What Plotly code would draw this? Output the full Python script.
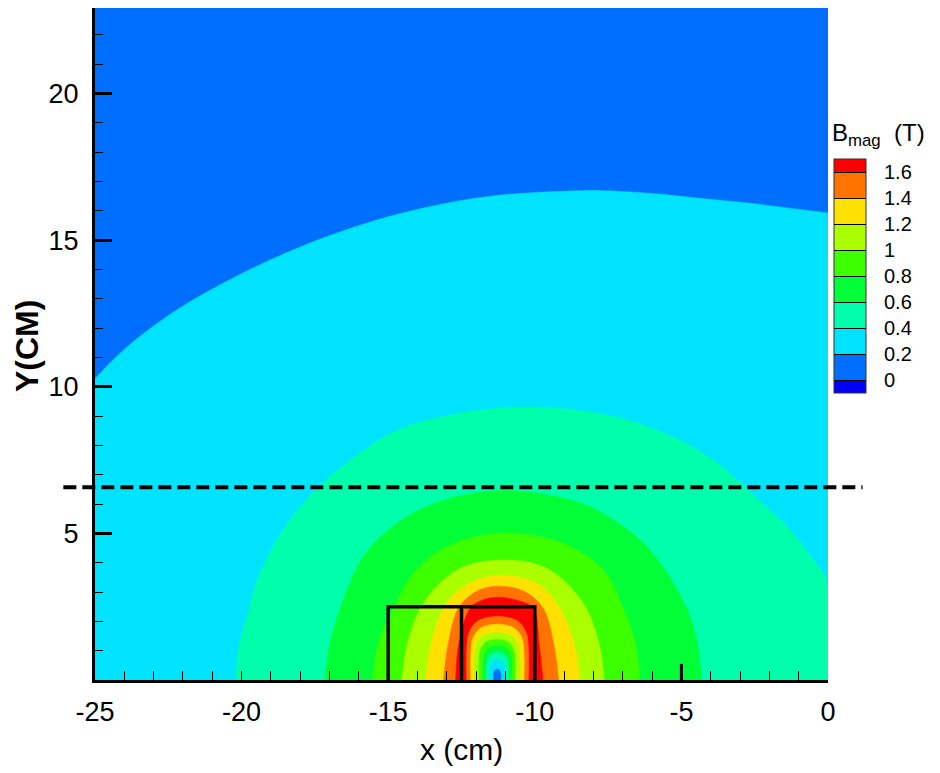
import plotly.graph_objects as go

# ---------------- data ----------------
# contour levels (T), their labels and the Tecplot-style band colours
levels = [0, 0.2, 0.4, 0.6, 0.8, 1.0, 1.2, 1.4, 1.6]
level_text = ["0", "0.2", "0.4", "0.6", "0.8", "1", "1.2", "1.4", "1.6"]
# band_colors[k] = band just below levels[k]; the last one is above 1.6
band_colors = ["#0000FF", "#006EFF", "#00E3FF", "#00FFAA", "#00FF36",
               "#3CFF00", "#AAFF00", "#FFE100", "#FF7300", "#FF0000"]

# outer iso-lines of |B| (x, y in cm)
iso02_x = [-25.6, -24.94, -24.03, -22.9, -21.76, -20.62, -19.49, -18.35, -17.21, -16.07,
           -14.94, -13.80, -12.66, -11.53, -10.39, -9.25, -7.7, -6.07, -4.37, -2.66,
           -0.96, 0.07, 0.6, 0.6, -25.6]
iso02_y = [9.6, 10.34, 11.25, 12.15, 12.90, 13.54, 14.11, 14.62, 15.08, 15.48,
           15.82, 16.10, 16.33, 16.50, 16.60, 16.66, 16.69, 16.6, 16.43, 16.26,
           16.05, 15.92, 15.84, -1, -1]

iso04_x = [-20.2, -20.08, -19.75, -19.5, -18.67, -17.4, -16.2, -14.8, -12.9, -10.4, -8.0,
           -6.6, -5.3, -4.2, -3.2, -2.3, -1.5, -0.8, 0.04, 0.7, 0.7]
iso04_y = [0, 1.2, 2.4, 3.3, 5.0, 6.56, 7.56, 8.47, 9.04, 9.32, 9.12,
           8.80, 8.30, 7.70, 6.92, 6.07, 5.35, 4.5, 3.35, 2.3, -1]

iso06_x = [-17.16, -17.0, -16.64, -15.85, -14.71, -13.6, -12.44, -10.85, -9.03, -7.89, -6.18, -4.82, -4.45, -4.32]
iso06_y = [0, 1.2, 2.44, 4.21, 5.34, 5.95, 6.31, 6.46, 6.20, 5.80, 4.55, 2.44, 1.2, 0]

iso08_x = [-15.54, -15.35, -14.83, -14.14, -13.0, -11.07, -9.03, -7.66, -6.98, -6.55, -6.42]
iso08_y = [0, 1.2, 2.44, 3.64, 4.55, 5.02, 4.66, 3.75, 2.44, 1.2, 0]

iso10_x = [-14.53, -14.35, -13.8, -12.66, -11.19, -9.59, -8.35, -7.8, -7.64]
iso10_y = [0, 1.2, 2.62, 3.75, 4.09, 3.81, 2.62, 1.2, 0]

iso12_x = [-13.72, -13.55, -13.12, -12.44, -11.3, -9.94, -9.14, -8.65, -8.47]
iso12_y = [0, 1.2, 2.44, 3.18, 3.56, 3.30, 2.44, 1.2, 0]

iso14_x = [-13.11, -12.96, -12.61, -12.0, -11.3, -10.4, -9.71, -9.35, -9.19]
iso14_y = [0, 1.2, 2.44, 3.02, 3.2, 3.04, 2.44, 1.2, 0]

iso16_x = [-12.70, -12.6, -12.21, -11.8, -11.3, -10.6, -10.05, -9.85, -9.72]
iso16_y = [0, 1.2, 2.44, 2.72, 2.82, 2.72, 2.44, 1.2, 0]

# inner iso-lines (field falls again inside the magnet)
in16_x = [-12.32, -12.32, -12.24, -11.94, -11.27, -10.60, -10.30, -10.22, -10.22]
in16_y = [0, 1.08, 1.63, 2.02, 2.17, 2.02, 1.63, 1.08, 0]
in14_x = [-12.18, -12.18, -12.11, -11.85, -11.27, -10.70, -10.44, -10.37, -10.37]
in14_y = [0, 0.95, 1.43, 1.77, 1.9, 1.77, 1.43, 0.95, 0]
in12_x = [-12.05, -12.05, -11.99, -11.77, -11.28, -10.80, -10.58, -10.52, -10.52]
in12_y = [0, 0.81, 1.22, 1.51, 1.62, 1.51, 1.22, 0.81, 0]
in10_x = [-11.9, -11.9, -11.85, -11.68, -11.29, -10.9, -10.73, -10.68, -10.68]
in10_y = [0, 0.7, 1.04, 1.29, 1.39, 1.29, 1.04, 0.7, 0]
in08_x = [-11.76, -11.76, -11.72, -11.59, -11.28, -10.97, -10.84, -10.8, -10.8]
in08_y = [0, 0.58, 0.87, 1.08, 1.16, 1.08, 0.87, 0.58, 0]
in06_x = [-11.65, -11.65, -11.62, -11.52, -11.28, -11.04, -10.93, -10.9, -10.9]
in06_y = [0, 0.47, 0.7, 0.87, 0.94, 0.87, 0.7, 0.47, 0]
in04_x = [-11.55, -11.55, -11.53, -11.45, -11.29, -11.12, -11.04, -11.02, -11.02]
in04_y = [0, 0.35, 0.52, 0.65, 0.70, 0.65, 0.52, 0.35, 0]
in02_x = [-11.41, -11.41, -11.39, -11.35, -11.285, -11.22, -11.18, -11.16, -11.16]
in02_y = [0, 0.18, 0.28, 0.34, 0.37, 0.34, 0.28, 0.18, 0]

# magnet / yoke outline, probe marker and scan line
magnet_x = [-15, -15, -10, -10, None, -12.5, -12.5]
magnet_y = [0, 2.5, 2.5, 0, None, 0, 2.5]
probe_x = [-5, -5]
probe_y = [0, 0.55]
scan_y = 6.57
scan_x = [-26.08, 1.18]

x_range = [-25, 0]
y_range = [0, 22.92]
x_ticks = [-25, -20, -15, -10, -5, 0]
x_ticktext = ["-25", "-20", "-15", "-10", "-5", "0"]
y_ticks = [5, 10, 15, 20]
y_ticktext = ["5", "10", "15", "20"]
y_minor = [v for v in range(1, 23) if v % 5 != 0]

# ---------------- figure ----------------
fig = go.Figure()

outer = [(iso02_x, iso02_y, 1), (iso04_x, iso04_y, 2),
         (iso06_x, iso06_y, 3), (iso08_x, iso08_y, 4),
         (iso10_x, iso10_y, 5), (iso12_x, iso12_y, 6),
         (iso14_x, iso14_y, 7), (iso16_x, iso16_y, 8)]
for xs, ys, k in outer:
    col = band_colors[k + 1]
    fig.add_trace(go.Scatter(x=xs, y=ys, mode="lines", fill="toself", fillcolor=col,
                             line=dict(width=0.5, color=col, shape="spline", smoothing=1.0),
                             hoverinfo="skip", showlegend=False))

inner = [(in16_x, in16_y, 8), (in14_x, in14_y, 7), (in12_x, in12_y, 6),
         (in10_x, in10_y, 5), (in08_x, in08_y, 4), (in06_x, in06_y, 3),
         (in04_x, in04_y, 2), (in02_x, in02_y, 1)]
for xs, ys, k in inner:
    col = band_colors[k]
    fig.add_trace(go.Scatter(x=xs, y=ys, mode="lines", fill="toself", fillcolor=col,
                             line=dict(width=0.5, color=col, shape="spline", smoothing=1.0),
                             hoverinfo="skip", showlegend=False))

fig.add_trace(go.Scatter(x=magnet_x, y=magnet_y, mode="lines",
                         line=dict(color="black", width=3.5),
                         hoverinfo="skip", showlegend=False))
fig.add_trace(go.Scatter(x=probe_x, y=probe_y, mode="lines",
                         line=dict(color="black", width=3),
                         hoverinfo="skip", showlegend=False))

# colour legend: a contour trace placed outside the visible range, only its colorbar shows
zmin_cb = levels[0] - 0.1
zmax_cb = levels[-1] + 0.1
centers = [zmin_cb] + [l + 0.1 for l in levels[:-1]] + [zmax_cb]
cscale = [[(c - zmin_cb) / (zmax_cb - zmin_cb), col] for c, col in zip(centers, band_colors)]
cscale[0][0] = 0.0
cscale[-1][0] = 1.0
fig.add_trace(go.Contour(
    x=[100, 101], y=[100, 101], z=[[0, 0.8], [0.8, 1.6]],
    autocontour=False,
    contours=dict(start=levels[0], end=levels[-1], size=0.2, coloring="fill", showlines=True),
    colorscale=cscale, line=dict(color="black", width=1),
    hoverinfo="skip", showscale=True,
    colorbar=dict(
        lenmode="pixels", len=234, thickness=32,
        x=(834 - 95) / 733, xanchor="left", xpad=0,
        y=(680 - 276) / 672, yanchor="middle", ypad=0,
        outlinecolor="#333333", outlinewidth=1,
        tickmode="array", tickvals=levels, ticktext=level_text,
        ticks="outside", ticklen=14, tickcolor="rgba(0,0,0,0)",
        tickfont=dict(family="Liberation Sans, Arial", size=20, color="black"),
    ),
))

fig.add_shape(type="line", xref="paper", yref="y",
              x0=(scan_x[0] - x_range[0]) / (x_range[1] - x_range[0]),
              x1=(scan_x[1] - x_range[0]) / (x_range[1] - x_range[0]),
              y0=scan_y, y1=scan_y,
              line=dict(color="black", width=4, dash="13px,6px"))

fig.add_annotation(text="B<sub>mag</sub>\u00a0\u00a0(T)", xref="paper", yref="paper",
                   x=(830 - 95) / 733, y=(680 - 152) / 672, xanchor="left", yanchor="bottom",
                   showarrow=False,
                   font=dict(family="Liberation Sans, Arial", size=24, color="black"))
fig.add_annotation(text="x (cm)", xref="paper", yref="paper",
                   x=0.5, y=(680 - 749) / 672, xanchor="center", yanchor="middle",
                   showarrow=False,
                   font=dict(family="Liberation Sans, Arial", size=30, color="black"))
fig.add_annotation(text="<b>Y(CM)</b>", xref="paper", yref="paper", textangle=-90,
                   x=(27 - 95) / 733, y=(680 - 346) / 672, xanchor="center", yanchor="middle",
                   showarrow=False,
                   font=dict(family="Liberation Sans, Arial", size=32, color="black"))

tickfont = dict(family="Liberation Sans, Arial", size=27, color="black")
fig.update_xaxes(range=x_range, tickmode="array", tickvals=x_ticks, ticktext=x_ticktext,
                 ticks="inside", ticklen=9, tickwidth=1.3, tickcolor="black",
                 minor=dict(ticks="inside", ticklen=9, tickwidth=1.3, tickcolor="black", dtick=1),
                 showline=True, linewidth=3, linecolor="black", mirror=False,
                 showgrid=False, zeroline=False, tickfont=tickfont, ticklabelstandoff=6)
fig.update_yaxes(range=y_range, tickmode="array", tickvals=y_ticks, ticktext=y_ticktext,
                 ticks="inside", ticklen=17, tickwidth=3, tickcolor="black",
                 minor=dict(ticks="inside", ticklen=8, tickwidth=1.3, tickcolor="black",
                            tickmode="array", tickvals=y_minor),
                 showline=True, linewidth=3, linecolor="black", mirror=False,
                 showgrid=False, zeroline=False, tickfont=tickfont, ticklabelstandoff=8)

fig.update_layout(width=940, height=773, margin=dict(l=95, r=112, t=8, b=93),
                  paper_bgcolor="white", plot_bgcolor=band_colors[1],
                  showlegend=False, font=dict(family="Liberation Sans, Arial"))

fig.write_html("out.html")
